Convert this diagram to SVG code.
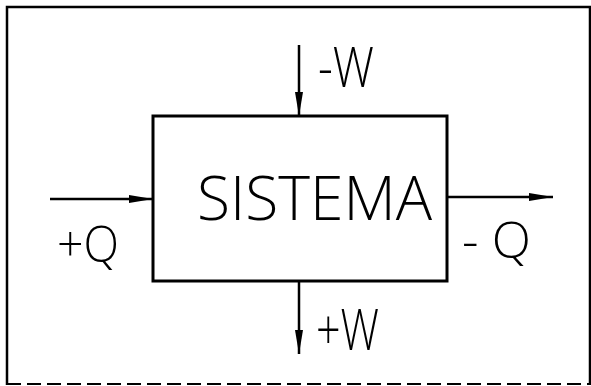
<svg xmlns="http://www.w3.org/2000/svg" width="591" height="386" viewBox="0 0 591 386">
<style>
.frame{fill:none;stroke:#000;stroke-width:2.5}
.dash{fill:none;stroke:#000;stroke-width:2;stroke-dasharray:14 6}
.box{fill:#fff;stroke:#000;stroke-width:3}
.conn{stroke:#000;stroke-width:2.5;fill:none}
.lbl{font-family:"Open Sans","Liberation Sans",sans-serif;font-weight:300;fill:#000}
</style>
<defs>
<marker id="ah" viewBox="0 0 24 10" refX="24" refY="5" markerWidth="24" markerHeight="10" markerUnits="userSpaceOnUse" orient="auto">
<path d="M0,1 L24,5 L0,9 Z" fill="#000"/>
</marker>
</defs>
<rect width="591" height="386" fill="#fff"/>
<g id="frame">
<path class="frame" d="M7,385 L7,7 L590,7 L590,385"/>
<path class="dash" d="M7,384 L590,384"/>
</g>
<g id="connectors">
<line class="conn" x1="299" y1="45" x2="299" y2="116" marker-end="url(#ah)"/>
<line class="conn" x1="50" y1="199" x2="153" y2="199" marker-end="url(#ah)"/>
<line class="conn" x1="447" y1="197" x2="553" y2="197" marker-end="url(#ah)"/>
<line class="conn" x1="299" y1="281" x2="299" y2="354" marker-end="url(#ah)"/>
</g>
<g id="sistema">
<rect class="box" x="153" y="116" width="294" height="165"/>
<text class="lbl" x="197" y="220" font-size="60" textLength="235" lengthAdjust="spacingAndGlyphs">SISTEMA</text>
</g>
<g id="label-minus-w">
<text class="lbl" x="318" y="87" font-size="55" textLength="56" lengthAdjust="spacingAndGlyphs">-W</text>
</g>
<g id="label-plus-q">
<text class="lbl" x="57" y="262" font-size="50" textLength="62" lengthAdjust="spacingAndGlyphs">+Q</text>
</g>
<g id="label-minus-q">
<text class="lbl" x="462" y="258" font-size="50" textLength="69" lengthAdjust="spacingAndGlyphs">- Q</text>
</g>
<g id="label-plus-w">
<text class="lbl" x="316" y="350" font-size="57" textLength="63" lengthAdjust="spacingAndGlyphs">+W</text>
</g>
</svg>
